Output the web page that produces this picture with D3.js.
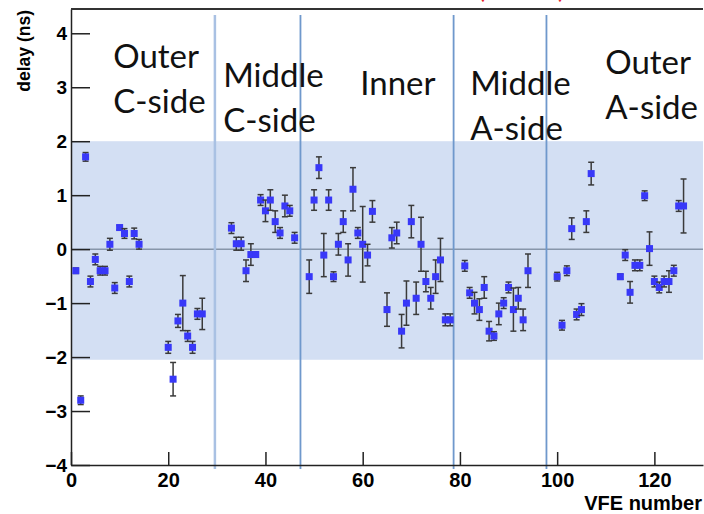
<!DOCTYPE html>
<html>
<head>
<meta charset="utf-8">
<script src="https://cdn.jsdelivr.net/npm/d3@7"></script>
<style>
  body { margin: 0; background: #fff; }
  .axis text { font-family: "Liberation Sans", Arial, sans-serif; font-weight: bold; fill: #000; }
  .region { font-family: Lato, "Open Sans", sans-serif; font-size: 33px; fill: #111; }
</style>
</head>
<body>
<script>
// delay per VFE
var vfe = [1,2,3,4,5,6,7,8,9,10,11,12,13,14,20,21,22,23,24,25,26,27,
  33,34,35,36,37,38,39,40,41,42,43,44,45,46,
  49,50,51,52,53,54,55,56,57,58,59,60,61,62,65,66,67,68,69,70,71,72,73,74,75,76,77,78,
  81,82,83,84,85,86,87,88,89,90,91,92,93,94,
  100,101,102,103,104,105,106,107,113,114,115,116,117,118,119,120,121,122,123,124,125,126];
var delay = [-0.40,-2.80,1.71,-0.60,-0.19,-0.40,-0.40,0.09,-0.72,0.40,0.29,-0.60,0.29,0.09,-1.82,-2.41,-1.33,-1.00,-1.61,-1.82,-1.20,-1.20,
  0.39,0.10,0.10,-0.40,-0.10,-0.10,0.91,0.71,0.91,0.51,0.30,0.80,0.71,0.21,
  -0.51,0.91,1.51,-0.11,0.91,-0.51,0.09,0.51,-0.20,1.11,0.30,0.09,-0.11,0.70,-1.12,0.21,0.30,-1.52,-1.00,0.51,-0.91,0.09,-0.60,-0.91,-0.51,-0.20,-1.31,-1.31,
  -0.31,-0.81,-1.00,-1.12,-0.71,-1.52,-1.61,-1.20,-1.00,-0.71,-1.12,-0.91,-1.31,-0.40,
  -0.51,-1.41,-0.40,0.38,-1.21,-1.12,0.51,1.40,-0.51,-0.11,-0.80,-0.30,-0.30,0.99,0.01,-0.60,-0.71,-0.60,-0.60,-0.40,0.80,0.80];
var err = [0.05,0.08,0.08,0.10,0.10,0.08,0.08,0.11,0.10,0.04,0.09,0.10,0.10,0.09,0.11,0.31,0.12,0.51,0.10,0.11,0.10,0.29,
  0.10,0.12,0.12,0.20,0.20,0.05,0.10,0.20,0.19,0.20,0.10,0.20,0.10,0.10,
  0.31,0.19,0.20,0.40,0.19,0.09,0.20,0.20,0.30,0.40,0.10,0.70,0.20,0.20,0.31,0.19,0.20,0.31,0.41,0.30,0.30,0.50,0.19,0.20,0.31,0.40,0.11,0.11,
  0.10,0.10,0.20,0.20,0.20,0.18,0.08,0.20,0.10,0.10,0.40,0.20,0.20,0.31,
  0.08,0.09,0.09,0.20,0.10,0.11,0.20,0.21,0.05,0.10,0.20,0.10,0.10,0.09,0.31,0.10,0.10,0.10,0.20,0.10,0.10,0.50];

// region boundaries and labels
var boundaries = [29.6, 47.2, 78.7, 97.8];
var regionNames = [["Outer", "C-side"], ["Middle", "C-side"], ["Inner"], ["Middle", "A-side"], ["Outer", "A-side"]];
var regionX = [8.7, 31.3, 59.5, 82.1, 109.9];   // left edge of each label, VFE units
var regionY = [3.35, 3.0, 2.85, 2.85, 3.25];      // first baseline, delay units
var band = [-2.05, 2.0];

var width = 704, height = 514;
var x = d3.scaleLinear().domain([0, 130]).range([71, 703]);
var y = d3.scaleLinear().domain([-4, 4.45]).range([465, 9]);

var svg = d3.select("body").append("svg")
    .attr("width", width)
    .attr("height", height);

// red title fragment cut off at the top
svg.append("text").attr("x", 478).attr("y", -2).attr("fill", "#e8202a")
    .style("font-family", "Lato, sans-serif").style("font-size", "26px").text("(");
svg.append("text").attr("x", 558).attr("y", -2).attr("fill", "#e8202a")
    .style("font-family", "Lato, sans-serif").style("font-size", "26px").text(")");

// +-2 ns band
svg.append("rect")
    .attr("x", x(0)).attr("y", y(band[1]))
    .attr("width", x(130) - x(0)).attr("height", y(band[0]) - y(band[1]))
    .attr("fill", "#d3dff3");

// zero line
svg.append("line")
    .attr("x1", x(0)).attr("x2", x(130)).attr("y1", y(0)).attr("y2", y(0))
    .attr("stroke", "#8796aa").attr("stroke-width", 1.5);

// boundaries
svg.selectAll(".bound").data(boundaries).enter().append("line")
    .attr("x1", d => x(d)).attr("x2", d => x(d))
    .attr("y1", 15).attr("y2", 469)
    .attr("stroke", (d, i) => i == 0 ? "#a9c1e3" : "#6f98cc")
    .attr("stroke-width", (d, i) => i == 0 ? 2.5 : 1.8);

// region labels
regionNames.forEach(function(lines, i) {
  var t = svg.append("text").attr("class", "region")
      .attr("x", x(regionX[i])).attr("y", y(regionY[i]));
  lines.forEach(function(s, j) {
    t.append("tspan").attr("x", x(regionX[i])).attr("dy", j == 0 ? 0 : 45).text(s);
  });
});

// axes
var yMajor = d3.axisLeft(y).tickValues(d3.range(-4, 5, 1)).tickSizeInner(-19).tickSizeOuter(0).tickPadding(4);
var yMinor = d3.axisLeft(y).tickValues(d3.range(-4, 4.41, 0.2)).tickSizeInner(-10).tickSizeOuter(0).tickFormat("");
var xMajor = d3.axisBottom(x).tickValues(d3.range(0, 121, 20)).tickSizeInner(-13).tickSizeOuter(0).tickPadding(8);
var xMinor = d3.axisBottom(x).tickValues(d3.range(0, 130, 5)).tickSizeInner(-6).tickSizeOuter(0).tickFormat("");

var gy = svg.append("g").attr("class", "axis").attr("transform", "translate(" + x(0) + ",0)");
gy.call(yMinor);
gy.call(yMajor);
var gx = svg.append("g").attr("class", "axis").attr("transform", "translate(0," + y(-4) + ")");
gx.call(xMinor);
gx.call(xMajor);
svg.selectAll(".axis text").style("font-size", "19px");
gx.selectAll("text").style("font-size", "20px");
svg.selectAll(".axis line, .axis path").attr("stroke", "#222").attr("stroke-width", 1.5);

// top frame
svg.append("line")
    .attr("x1", x(0)).attr("x2", x(130)).attr("y1", y(4.45)).attr("y2", y(4.45))
    .attr("stroke", "#333").attr("stroke-width", 2);

// axis titles
svg.append("text").attr("class", "axis")
    .attr("transform", "translate(30,10) rotate(-90)")
    .attr("text-anchor", "end")
    .style("font-family", "Liberation Sans, Arial, sans-serif").style("font-weight", "bold").style("font-size", "17.5px")
    .text("delay (ns)");
svg.append("text")
    .attr("x", 702).attr("y", 510)
    .attr("text-anchor", "end")
    .style("font-family", "Liberation Sans, Arial, sans-serif").style("font-weight", "bold").style("font-size", "20px")
    .text("VFE number");

// points with error bars
var data = vfe.map((v, i) => ({v: v, d: delay[i], e: err[i]}));
var pts = svg.append("g").selectAll("g").data(data).enter().append("g");
pts.append("line")
    .attr("x1", d => x(d.v)).attr("x2", d => x(d.v))
    .attr("y1", d => y(d.d - d.e)).attr("y2", d => y(d.d + d.e))
    .attr("stroke", "#3a3a3a").attr("stroke-width", 1.5);
[-1, 1].forEach(function(s) {
  pts.append("line")
      .attr("x1", d => x(d.v) - 3).attr("x2", d => x(d.v) + 3)
      .attr("y1", d => y(d.d + s * d.e)).attr("y2", d => y(d.d + s * d.e))
      .attr("stroke", "#3a3a3a").attr("stroke-width", 1.5);
});
pts.append("rect")
    .attr("x", d => x(d.v) - 3.5).attr("y", d => y(d.d) - 3.5)
    .attr("width", 7).attr("height", 7)
    .attr("fill", "#3838f8");
</script>
</body>
</html>
